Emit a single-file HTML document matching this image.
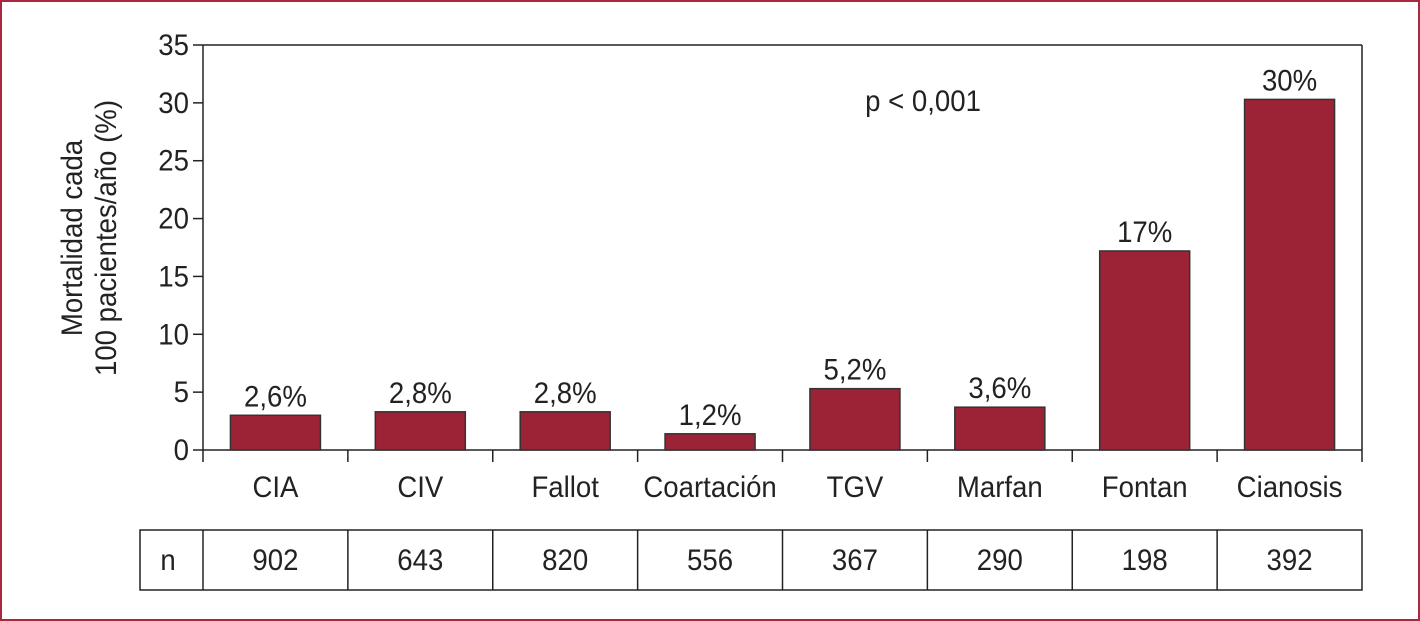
<!DOCTYPE html>
<html><head><meta charset="utf-8"><style>
body{margin:0;background:#fff;}
svg{display:block;font-family:"Liberation Sans",sans-serif;}
</style></head><body>
<svg id="c" width="1420" height="621" viewBox="0 0 1420 621">
<rect x="1" y="1" width="1418" height="619" fill="#fff" stroke="#a8293f" stroke-width="2"/>
<g id="g"></g>
</svg>
<script>
const categories=["CIA","CIV","Fallot","Coartación","TGV","Marfan","Fontan","Cianosis"];
const values=[3.0,3.3,3.3,1.4,5.3,3.7,17.2,30.3];
const valueLabels=["2,6%","2,8%","2,8%","1,2%","5,2%","3,6%","17%","30%"];
const nValues=["902","643","820","556","367","290","198","392"];
const yTicks=[0,5,10,15,20,25,30,35];
const NS="http://www.w3.org/2000/svg";
const g=document.getElementById('g');
const x0=203,x1=1362,y0=450,yTop=45,yMax=35;
const bw=(x1-x0)/categories.length;
const y=v=>y0-(y0-yTop)*v/yMax;
const xc=i=>x0+bw*(i+0.5);
const FS=30,SX=0.92;
function el(t,a,txt){const e=document.createElementNS(NS,t);for(const k in a)e.setAttribute(k,a[k]);if(txt!==undefined)e.textContent=txt;g.appendChild(e);return e;}
function tx(x,yy,anchor,txt,rot){return el('text',{transform:'translate('+x+','+yy+')'+(rot?' rotate(-90)':'')+' scale('+SX+',1)','text-anchor':anchor,'font-size':FS,fill:'#222'},txt);}
let e;
e=el('line',{x1:x0,y1:yTop,x2:x0,y2:y0,stroke:'#222','stroke-width':1.5});


e=el('line',{x1:x0,y1:y0,x2:x1,y2:y0,stroke:'#222','stroke-width':1.5});


e=el('line',{x1:x0,y1:yTop,x2:x1,y2:yTop,stroke:'#222','stroke-width':1.5});


e=el('line',{x1:x1,y1:yTop,x2:x1,y2:y0,stroke:'#222','stroke-width':1.5});


yTicks.forEach(t=>{
 e=el('line',{x1:x0-10,y1:y(t),x2:x0,y2:y(t),stroke:'#222','stroke-width':1.5});
 
 
 e=tx(x0-14,y(t)+10,'end',String(t));
 
 
});
for(let i=0;i<=categories.length;i++){
 e=el('line',{x1:x0+bw*i,y1:y0,x2:x0+bw*i,y2:y0+12,stroke:'#222','stroke-width':1.5});
 
 
}
categories.forEach((c,i)=>{
 e=el('rect',{x:xc(i)-45,y:y(values[i]),width:90,height:y0-y(values[i]),fill:'#9b2335',stroke:'#333','stroke-width':1.5});
 
 
 e=tx(xc(i),y(values[i])-9,'middle',valueLabels[i]);
 
 
 e=tx(xc(i),497,'middle',c);
 
 
 e=tx(xc(i),570,'middle',nValues[i]);
 
 
});
e=el('rect',{x:140,y:530,width:x1-140,height:60,fill:'none',stroke:'#222','stroke-width':1.5});


for(let i=0;i<categories.length;i++){
 e=el('line',{x1:x0+bw*i,y1:530,x2:x0+bw*i,y2:590,stroke:'#222','stroke-width':1.5});
 
 
}
e=tx(168,570,'middle','n');


e=tx(923,111,'middle','p < 0,001');


e=tx(82,238,'middle','Mortalidad cada',true);


e=tx(116,238,'middle','100 pacientes/año (%)',true);


</script>
</body></html>
